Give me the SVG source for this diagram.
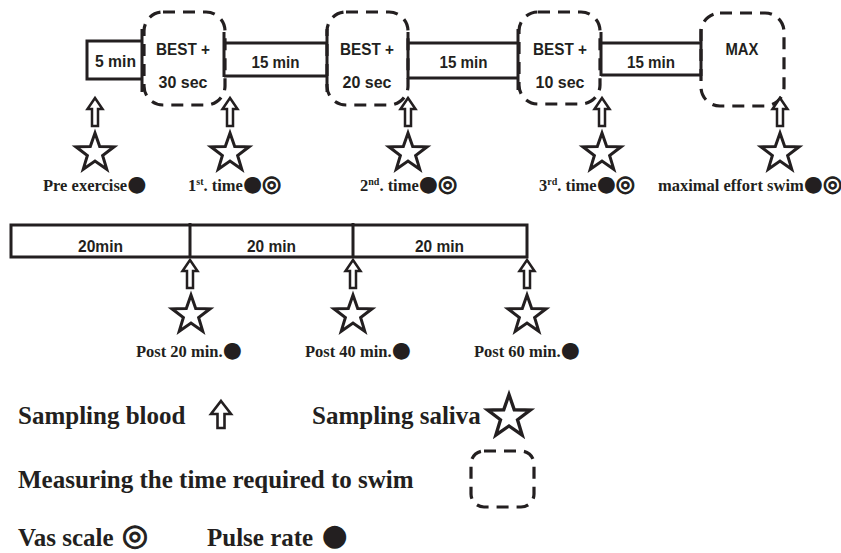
<svg xmlns="http://www.w3.org/2000/svg" xmlns:xlink="http://www.w3.org/1999/xlink" width="841" height="553" viewBox="0 0 841 553">
<defs>
<style>
.solid{fill:none;stroke:#231f20;stroke-width:3}
.dash{fill:none;stroke:#231f20;stroke-width:3.2;stroke-dasharray:12 8}
.box{font-family:"Liberation Sans",Arial,sans-serif;font-weight:bold;font-size:17px;fill:#231f20;text-anchor:middle}
.lab{font-family:"Liberation Serif","Times New Roman",serif;font-weight:bold;font-size:16.5px;fill:#231f20}
.leg{font-family:"Liberation Serif","Times New Roman",serif;font-weight:bold;font-size:25px;fill:#231f20}
.sym{font-family:"DejaVu Sans",sans-serif;font-weight:normal;font-size:22px}
.lsym{font-family:"DejaVu Sans",sans-serif;font-weight:normal;font-size:30px}
.ring{stroke:#231f20;stroke-width:1.1}
.sup{font-size:10px}
</style>
<polygon id="star" points="0,-20 4.7,-6.47 19.02,-6.18 7.61,2.47 11.76,16.18 0,8 -11.76,16.18 -7.61,2.47 -19.02,-6.18 -4.7,-6.47" fill="#fff" stroke="#231f20" stroke-width="3"/>
<path id="arrow" d="M0,0 L7.5,11 L3,11 L3,28 L-3,28 L-3,11 L-7.5,11 Z" fill="#fff" stroke="#231f20" stroke-width="2.5" stroke-linejoin="miter"/>
<path id="arrowBig" d="M0,0 L10,13 L3.5,13 L3.5,27 L-3.5,27 L-3.5,13 L-10,13 Z" fill="#fff" stroke="#231f20" stroke-width="2.6"/>
</defs>
<rect width="841" height="553" fill="#fff"/>

<g id="swim-1"><rect class="dash" x="144" y="12" width="81" height="93" rx="19"/><text class="box" x="183" y="55" textLength="54" lengthAdjust="spacingAndGlyphs">BEST +</text><text class="box" x="183" y="88" textLength="49" lengthAdjust="spacingAndGlyphs">30 sec</text></g>
<g id="swim-2"><rect class="dash" x="327" y="12" width="81" height="93" rx="19"/><text class="box" x="367" y="55" textLength="54" lengthAdjust="spacingAndGlyphs">BEST +</text><text class="box" x="367" y="88" textLength="49" lengthAdjust="spacingAndGlyphs">20 sec</text></g>
<g id="swim-3"><rect class="dash" x="519" y="12" width="81" height="92" rx="19"/><text class="box" x="560" y="55" textLength="54" lengthAdjust="spacingAndGlyphs">BEST +</text><text class="box" x="560" y="88" textLength="49" lengthAdjust="spacingAndGlyphs">10 sec</text></g>
<g id="swim-max"><rect class="dash" x="701" y="13" width="83" height="93" rx="19"/><text class="box" x="742" y="55" textLength="33" lengthAdjust="spacingAndGlyphs">MAX</text></g>

<g id="rest-5"><path class="solid" d="M142,41 H87 V79 H142 M142,29 V92"/><text class="box" x="115.5" y="67" textLength="41" lengthAdjust="spacingAndGlyphs">5 min</text></g>
<g id="rest-15a"><path class="solid" d="M224,43 H327 M224,76 H327 M224,32 V77 M327,29 V92"/><text class="box" x="275.5" y="68" textLength="48" lengthAdjust="spacingAndGlyphs">15 min</text></g>
<g id="rest-15b"><path class="solid" d="M408,43 H518 M408,78 H518 M408,32 V79 M518,29 V90"/><text class="box" x="463.5" y="68" textLength="48" lengthAdjust="spacingAndGlyphs">15 min</text></g>
<g id="rest-15c"><path class="solid" d="M601,43 H701 M601,75 H701 M601,32 V76 M701,29 V76"/><text class="box" x="651" y="68" textLength="48" lengthAdjust="spacingAndGlyphs">15 min</text></g>

<g id="recovery"><path class="solid" d="M11,225 H527 V257 H11 Z M190,223 V257 M353,223 V257"/>
<text class="box" x="100.5" y="252" textLength="45" lengthAdjust="spacingAndGlyphs">20min</text><text class="box" x="271.5" y="252" textLength="49" lengthAdjust="spacingAndGlyphs">20 min</text><text class="box" x="439.5" y="252" textLength="49" lengthAdjust="spacingAndGlyphs">20 min</text></g>

<g id="connectors">
<use xlink:href="#arrow" x="95" y="98"/>
<use xlink:href="#arrow" x="230" y="98"/>
<use xlink:href="#arrow" x="408" y="98"/>
<use xlink:href="#arrow" x="602" y="98"/>
<use xlink:href="#arrow" x="780" y="98"/>
<use xlink:href="#arrow" x="190" y="260"/>
<use xlink:href="#arrow" x="353" y="260"/>
<use xlink:href="#arrow" x="527" y="260"/>
</g>

<g id="sample-pre"><use xlink:href="#star" x="95" y="153"/><text class="lab" x="43" y="191">Pre exercise<tspan class="sym">●</tspan></text></g>
<g id="sample-1"><use xlink:href="#star" x="230" y="153"/><text class="lab" x="188" y="191">1<tspan class="sup" dy="-6">st</tspan><tspan dy="6">. time</tspan><tspan class="sym">●</tspan><tspan class="sym ring">◎</tspan></text></g>
<g id="sample-2"><use xlink:href="#star" x="408" y="153"/><text class="lab" x="360" y="191">2<tspan class="sup" dy="-6">nd</tspan><tspan dy="6">. time</tspan><tspan class="sym">●</tspan><tspan class="sym ring">◎</tspan></text></g>
<g id="sample-3"><use xlink:href="#star" x="602" y="153"/><text class="lab" x="539" y="191">3<tspan class="sup" dy="-6">rd</tspan><tspan dy="6">. time</tspan><tspan class="sym">●</tspan><tspan class="sym ring">◎</tspan></text></g>
<g id="sample-max"><use xlink:href="#star" x="780" y="153"/><text class="lab" x="658" y="191">maximal effort swim<tspan class="sym">●</tspan><tspan class="sym ring">◎</tspan></text></g>
<g id="sample-20"><use xlink:href="#star" x="191" y="315"/><text class="lab" x="136" y="357">Post 20 min.<tspan class="sym">●</tspan></text></g>
<g id="sample-40"><use xlink:href="#star" x="353" y="315"/><text class="lab" x="305" y="357">Post 40 min.<tspan class="sym">●</tspan></text></g>
<g id="sample-60"><use xlink:href="#star" x="527" y="315"/><text class="lab" x="474" y="357">Post 60 min.<tspan class="sym">●</tspan></text></g>

<g id="legend">
<text class="leg" x="18" y="424">Sampling blood</text>
<use xlink:href="#arrowBig" x="221" y="401"/>
<text class="leg" x="312" y="424">Sampling saliva</text>
<use xlink:href="#star" x="0" y="0" transform="translate(509,417) scale(1.12)"/>
<text class="leg" x="18" y="488">Measuring the time required to swim</text>
<rect class="dash" x="471" y="451" width="63" height="56" rx="13" stroke-dasharray="12 9"/>
<text class="leg" x="18" y="546">Vas scale <tspan class="lsym ring" dx="2" dy="-1" stroke-width="1.6">◎</tspan></text>
<text class="leg" x="207" y="546">Pulse rate <tspan class="lsym" dx="2" dy="-1">●</tspan></text>
</g>
</svg>
